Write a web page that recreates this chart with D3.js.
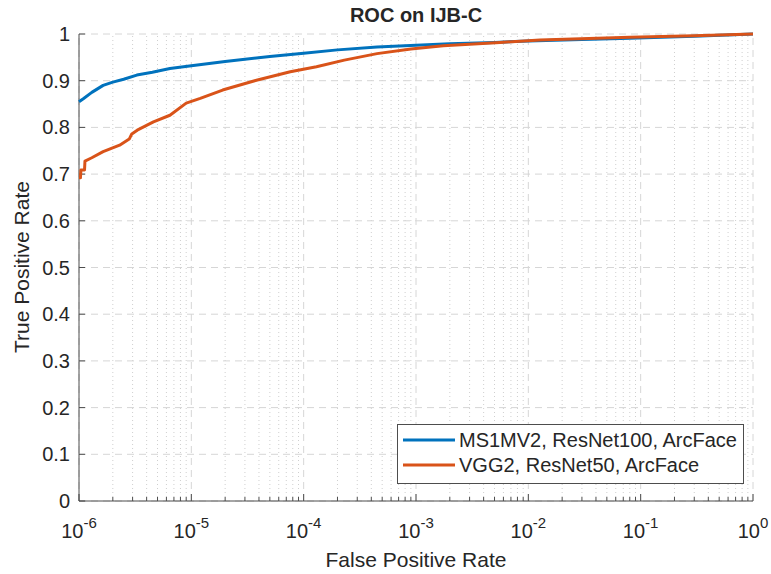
<!DOCTYPE html>
<html><head><meta charset="utf-8">
<script src="https://cdn.jsdelivr.net/npm/d3@7"></script>
<style>body{margin:0;background:#fff}svg{display:block}text{font-family:"Liberation Sans",Arial,sans-serif;fill:#262626}</style>
</head><body>
<svg id="c" width="771" height="574"></svg>
<script>
const seriesNames = ["MS1MV2, ResNet100, ArcFace", "VGG2, ResNet50, ArcFace"];
const seriesColors = ["#0072BD", "#D95319"];
const blueFPR = [1e-6,1.1e-6,1.3e-6,1.64e-6,2e-6,2.5e-6,3.27e-6,4.5e-6,6.45e-6,1e-5,2e-5,5e-5,1e-4,2e-4,4.5e-4,1e-3,2e-3,5e-3,1e-2,3e-2,8e-2,0.3,1];
const blueTPR = [0.855,0.862,0.875,0.89,0.897,0.903,0.912,0.918,0.926,0.932,0.941,0.952,0.959,0.966,0.972,0.976,0.979,0.982,0.985,0.988,0.991,0.995,1.0];
const orangeFPR = [1e-6,1.03e-6,1.04e-6,1.12e-6,1.13e-6,1.3e-6,1.64e-6,2.3e-6,2.8e-6,2.95e-6,3.3e-6,4.6e-6,6.45e-6,9e-6,1.2e-5,1.9e-5,3.8e-5,7.6e-5,1.3e-4,2.3e-4,4.5e-4,9e-4,1.75e-3,5.6e-3,1.27e-2,8e-2,0.3,1];
const orangeTPR = [0.692,0.692,0.709,0.709,0.728,0.735,0.748,0.762,0.775,0.786,0.794,0.812,0.826,0.852,0.862,0.880,0.901,0.919,0.930,0.944,0.958,0.968,0.975,0.982,0.987,0.993,0.996,1.0];
const xTickExps = [-6,-5,-4,-3,-2,-1,0];
const yTicks = [0,0.1,0.2,0.3,0.4,0.5,0.6,0.7,0.8,0.9,1];

const svg = d3.select("#c");
const x = d3.scaleLog().domain([1e-6,1]).range([79,753]);
const y = d3.scaleLinear().domain([0,1]).range([501,34]);

// minor positions
const minor = [];
for (let e=-6;e<0;e++) for (let m=2;m<=9;m++) minor.push(m*Math.pow(10,e));

const g = svg.append("g");
// minor grid
g.selectAll(".mg").data(minor).enter().append("line")
 .attr("x1",d=>x(d)).attr("x2",d=>x(d)).attr("y1",y(0)).attr("y2",y(1))
 .attr("stroke","#cfcfcf").attr("stroke-width",1).attr("stroke-dasharray","1,3");
// major grid x
g.selectAll(".gx").data(xTickExps).enter().append("line")
 .attr("x1",d=>x(Math.pow(10,d))).attr("x2",d=>x(Math.pow(10,d))).attr("y1",y(0)).attr("y2",y(1))
 .attr("stroke","#d6d6d6").attr("stroke-width",1).attr("stroke-dasharray","7,5");
// major grid y
g.selectAll(".gy").data(yTicks).enter().append("line")
 .attr("x1",x(1e-6)).attr("x2",x(1)).attr("y1",d=>y(d)).attr("y2",d=>y(d))
 .attr("stroke","#d6d6d6").attr("stroke-width",1).attr("stroke-dasharray","7,5");

// axes lines
svg.append("line").attr("x1",x(1e-6)).attr("x2",x(1e-6)).attr("y1",y(0)).attr("y2",y(1)).attr("stroke","#4d4d4d").attr("stroke-width",1);
svg.append("line").attr("x1",x(1e-6)).attr("x2",x(1)).attr("y1",y(0)).attr("y2",y(0)).attr("stroke","#4d4d4d").attr("stroke-width",1);
// y ticks
svg.selectAll(".yt").data(yTicks).enter().append("line")
 .attr("x1",x(1e-6)).attr("x2",x(1e-6)+6).attr("y1",d=>y(d)).attr("y2",d=>y(d)).attr("stroke","#4d4d4d");
svg.selectAll(".ytl").data(yTicks).enter().append("text")
 .attr("x",70).attr("y",d=>y(d)+7).attr("text-anchor","end").attr("font-size",20)
 .text(d=>d3.format("~g")(d));
// x ticks
svg.selectAll(".xt").data(xTickExps).enter().append("line")
 .attr("x1",d=>x(Math.pow(10,d))).attr("x2",d=>x(Math.pow(10,d))).attr("y1",y(0)).attr("y2",y(0)-7).attr("stroke","#4d4d4d");
svg.selectAll(".xmt").data(minor).enter().append("line")
 .attr("x1",d=>x(d)).attr("x2",d=>x(d)).attr("y1",y(0)).attr("y2",y(0)-4).attr("stroke","#4d4d4d");
const xl = svg.selectAll(".xtl").data(xTickExps).enter().append("text")
 .attr("x",d=>x(Math.pow(10,d))).attr("y",538).attr("text-anchor","middle").attr("font-size",20);
xl.append("tspan").text("10");
xl.append("tspan").attr("dy",-10).attr("font-size",15).text(d=>d===0?"0":String(d));

// lines
const line = d3.line().x(d=>x(d[0])).y(d=>y(d[1]));
const data = [d3.zip(blueFPR,blueTPR), d3.zip(orangeFPR,orangeTPR)];
svg.selectAll(".s").data(data).enter().append("path")
 .attr("d",line).attr("fill","none").attr("stroke",(d,i)=>seriesColors[i]).attr("stroke-width",3).attr("stroke-linejoin","round");

// title and labels
svg.append("text").attr("x",416).attr("y",22).attr("text-anchor","middle").attr("font-size",20).attr("font-weight","bold").text("ROC on IJB-C");
svg.append("text").attr("x",416).attr("y",567).attr("text-anchor","middle").attr("font-size",21).text("False Positive Rate");
svg.append("text").attr("transform","translate(29,267) rotate(-90)").attr("text-anchor","middle").attr("font-size",21).text("True Positive Rate");

// legend
const lg = svg.append("g");
lg.append("rect").attr("x",397.5).attr("y",424.5).attr("width",346).attr("height",59).attr("fill","#fff").attr("stroke","#4d4d4d").attr("stroke-width",1);
seriesNames.forEach((n,i)=>{
  const yy = 440 + i*25;
  lg.append("line").attr("x1",403).attr("x2",455).attr("y1",yy).attr("y2",yy).attr("stroke",seriesColors[i]).attr("stroke-width",3);
  lg.append("text").attr("x",459).attr("y",yy+7).attr("font-size",20).text(n);
});
</script>
</body></html>
